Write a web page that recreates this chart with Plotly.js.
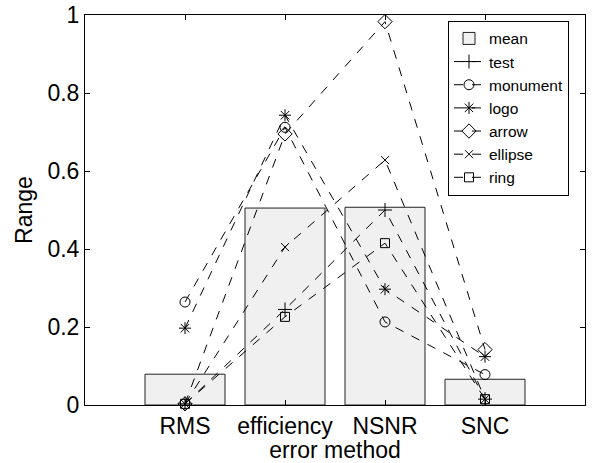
<!DOCTYPE html>
<html>
<head>
<meta charset="utf-8">
<script src="https://cdn.plot.ly/plotly-3.0.1.min.js"></script>
<style>html,body{margin:0;padding:0;background:#fff;}#chart{width:593px;height:463px;}</style>
</head>
<body>
<div id="chart"></div>
<script>
const categories = ["RMS", "efficiency", "NSNR", "SNC"];
const xPos = [1, 2, 3, 4];
const meanVals = [0.079, 0.505, 0.507, 0.066];
const testVals = [0.003, 0.245, 0.500, 0.015];
const monumentVals = [0.264, 0.712, 0.213, 0.078];
const logoVals = [0.197, 0.743, 0.297, 0.124];
const arrowVals = [0.003, 0.695, 0.983, 0.142];
const ellipseVals = [0.003, 0.405, 0.628, 0.015];
const ringVals = [0.003, 0.226, 0.415, 0.015];

const seriesNames = ["test", "monument", "logo", "arrow", "ellipse", "ring"];
const seriesVals = [testVals, monumentVals, logoVals, arrowVals, ellipseVals, ringVals];
const seriesSymbols = ["cross-thin-open", "circle-open", "asterisk-open", "diamond-open", "x-thin-open", "square-open"];
const seriesSizes = [10, 10, 10, 11, 8, 9];

const traces = [{
  type: "bar", x: xPos, y: meanVals, name: "mean", width: 0.8,
  marker: {color: "#f0f0f0", line: {color: "#222", width: 1}}
}];
seriesNames.forEach((n, i) => {
  traces.push({
    type: "scatter", mode: "lines+markers", x: xPos, y: seriesVals[i], name: n,
    line: {color: "#000", width: 1, dash: "dash"},
    marker: {symbol: seriesSymbols[i], size: seriesSizes[i], color: "#000", line: {color: "#000", width: 1}},
    cliponaxis: false
  });
});

const font = {family: "Liberation Sans, Arial, sans-serif", color: "#000"};
const layout = {
  width: 593, height: 463,
  margin: {l: 85, r: 8, t: 15, b: 58},
  paper_bgcolor: "#fff", plot_bgcolor: "#fff",
  font: Object.assign({size: 23}, font),
  showlegend: true,
  legend: {
    x: 0.726, y: 0.985, xanchor: "left", yanchor: "top",
    bgcolor: "#fff", bordercolor: "#000", borderwidth: 1,
    font: Object.assign({size: 15.5}, font), tracegroupgap: 0,
    itemwidth: 30
  },
  xaxis: {
    range: [0, 5], tickmode: "array", tickvals: xPos, ticktext: categories,
    ticks: "inside", ticklen: 5, tickcolor: "#000", mirror: "ticks",
    showline: true, linecolor: "#000", linewidth: 1, showgrid: false, zeroline: false,
    title: {text: "error method", font: Object.assign({size: 23}, font), standoff: 2},
    tickfont: Object.assign({size: 23}, font)
  },
  yaxis: {
    range: [0, 1], tickmode: "array", tickvals: [0, 0.2, 0.4, 0.6, 0.8, 1],
    ticktext: ["0", "0.2", "0.4", "0.6", "0.8", "1"],
    ticks: "inside", ticklen: 5, tickcolor: "#000", mirror: "ticks",
    showline: true, linecolor: "#000", linewidth: 1, showgrid: false, zeroline: false,
    title: {text: "Range", font: Object.assign({size: 23}, font), standoff: 8},
    tickfont: Object.assign({size: 23}, font)
  }
};
Plotly.newPlot("chart", traces, layout, {displayModeBar: false, staticPlot: true});
</script>
</body>
</html>
